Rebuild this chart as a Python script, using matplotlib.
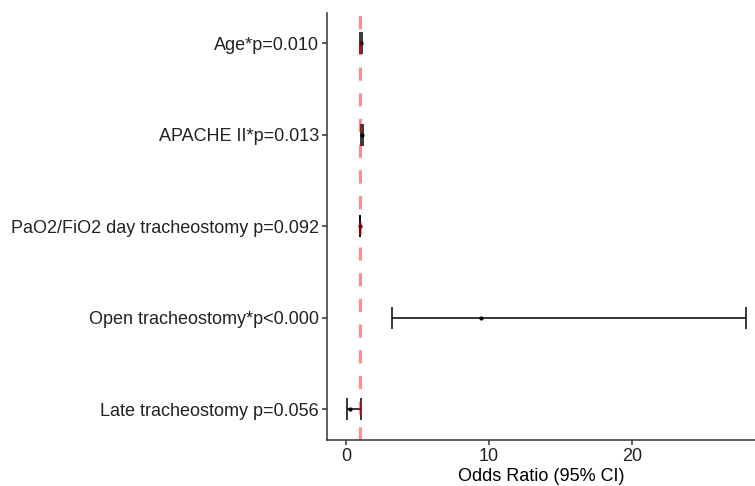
import matplotlib
matplotlib.use("Agg")
import matplotlib.pyplot as plt

labels = ["Age*p=0.010", "APACHE II*p=0.013", "PaO2/FiO2 day tracheostomy p=0.092",
          "Open tracheostomy*p<0.000", "Late tracheostomy p=0.056"]
odds = [1.07, 1.09, 0.995, 9.46, 0.30]
ci_low = [1.01, 1.02, 0.985, 3.21, 0.07]
ci_high = [1.14, 1.17, 1.005, 27.9, 1.02]
xticks = [0, 10, 20]

plt.rcParams['font.family'] = ['Liberation Sans', 'DejaVu Sans']
plt.rcParams['lines.scale_dashes'] = False

fig = plt.figure(figsize=(7.55, 4.86), dpi=100)
ax = fig.add_axes([327/755, 1-440/486, 1-327/755, (440-12.7)/486])

n = len(labels)
ypos = [n - i for i in range(n)]
xerr = [[o - l for o, l in zip(odds, ci_low)], [h - o for o, h in zip(odds, ci_high)]]
ax.errorbar(odds, ypos, xerr=xerr, fmt='o', color='black', ecolor='black',
            markersize=2, elinewidth=1.1, capsize=7.9, capthick=1.1, zorder=2)
ax.axvline(1, color='red', alpha=0.45, linewidth=2.2, linestyle=(0, (9.5, 9.0)), zorder=3)

ax.set_xlim(-1.32, 28.56)
ax.set_ylim(0.661, 5.334)
ax.set_yticks(ypos)
ax.set_yticklabels(labels)
ax.set_xticks(xticks)
ax.set_xlabel("Odds Ratio (95% CI)", fontsize=13, color='black', labelpad=2)

for s in ['top', 'right']:
    ax.spines[s].set_visible(False)
for s in ['left', 'bottom']:
    ax.spines[s].set_linewidth(1.1)
    ax.spines[s].set_color('#333333')
ax.tick_params(axis='both', length=3.6, width=1.1, color='#333333', labelsize=13,
               labelcolor='#222222', pad=2)

fig.savefig("out.png", dpi=100)
